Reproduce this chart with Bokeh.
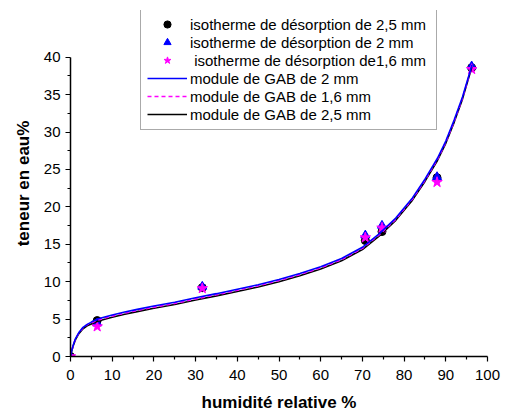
from bokeh.plotting import figure
from bokeh.models import Legend, LegendItem, Range1d, FixedTicker
from bokeh.embed import file_html
from bokeh.resources import INLINE

# Measured points (relative humidity %, water content %)
hr = [0, 6.4, 31.6, 70.7, 74.7, 87.9, 96.2]
wc_25 = [0, 4.8, 9.2, 15.5, 16.7, 23.9, 38.6]   # 2,5 mm (black circles)
wc_2 = [0, 4.45, 9.35, 16.2, 17.5, 24.0, 38.8]  # 2 mm (blue triangles)
wc_16 = [0, 4.0, 9.1, 15.9, 17.2, 23.3, 38.4]   # 1,6 mm (magenta stars)

# GAB model curves
gab_x = [0, 0.3, 0.7, 1.2, 2, 3, 4, 5, 6.5, 8, 10, 13, 16, 20, 25, 30, 35, 40, 45,
         50, 55, 60, 65, 70, 74, 78, 82, 85, 88, 90, 92, 94, 96.3]
gab_2 = [0, 0.8, 1.6, 2.4, 3.2, 3.9, 4.3, 4.6, 5.0, 5.25, 5.55, 5.95, 6.3, 6.75, 7.25,
         7.85, 8.4, 9.0, 9.6, 10.3, 11.1, 12.0, 13.1, 14.6, 16.4, 18.5, 21.2, 23.7,
         26.5, 28.8, 31.6, 34.7, 39.0]
gab_16 = [0, 0.8, 1.6, 2.35, 3.15, 3.85, 4.25, 4.5, 4.85, 5.1, 5.4, 5.8, 6.15, 6.6,
          7.1, 7.7, 8.25, 8.85, 9.45, 10.15, 10.95, 11.85, 12.95, 14.45, 16.25, 18.35,
          21.05, 23.55, 26.35, 28.65, 31.45, 34.55, 38.9]
gab_25 = [0, 0.75, 1.5, 2.25, 3.05, 3.7, 4.1, 4.35, 4.7, 4.95, 5.25, 5.65, 6.0, 6.45,
          6.95, 7.55, 8.1, 8.7, 9.3, 10.0, 10.8, 11.7, 12.8, 14.3, 16.1, 18.2, 20.9,
          23.4, 26.2, 28.5, 31.3, 34.4, 38.8]

x_ticks = [0, 10, 20, 30, 40, 50, 60, 70, 80, 90, 100]
y_ticks = [0, 5, 10, 15, 20, 25, 30, 35, 40]

FONT = "Liberation Sans"

p = figure(width=505, height=414, output_backend="svg", toolbar_location=None,
           x_range=Range1d(0, 100), y_range=Range1d(0, 46.25),
           min_border_left=70, min_border_right=18, min_border_top=10,
           min_border_bottom=56)
p.outline_line_color = None
p.xgrid.visible = False
p.ygrid.visible = False
p.background_fill_color = "white"

r_c = p.scatter(hr, wc_25, marker="circle", size=8, color="black")
r_t = p.scatter(hr, wc_2, marker="triangle", size=9, color="blue")
r_s = p.scatter(hr, wc_16, marker="star", size=11, color="magenta")

r_l25 = p.line(gab_x, gab_25, line_color="black", line_width=1.6)
r_l16 = p.line(gab_x, gab_16, line_color="magenta", line_width=1.6, line_dash="4 3")
r_l2 = p.line(gab_x, gab_2, line_color="blue", line_width=1.6)

for ax, ticks in ((p.xaxis[0], x_ticks), (p.yaxis[0], y_ticks)):
    ax.ticker = FixedTicker(ticks=ticks,
                            minor_ticks=[t + (ticks[1] - ticks[0]) / 2 for t in ticks[:-1]])
    ax.bounds = (ticks[0], ticks[-1])
    ax.axis_line_width = 1.5
    ax.axis_line_color = "black"
    ax.major_tick_line_color = "black"
    ax.minor_tick_line_color = "black"
    ax.major_tick_line_width = 1.2
    ax.minor_tick_line_width = 1.2
    ax.major_tick_in = 0
    ax.major_tick_out = 5
    ax.minor_tick_in = 0
    ax.minor_tick_out = 3
    ax.major_label_text_font = FONT
    ax.major_label_text_font_size = "15px"
    ax.major_label_text_color = "black"
    ax.axis_label_text_font = FONT
    ax.axis_label_text_font_style = "bold"
    ax.axis_label_text_font_size = "17px"
    ax.axis_label_text_color = "black"

p.xaxis.axis_label = "humidité relative %"
p.yaxis.axis_label = "teneur en eau%"
p.xaxis.major_label_standoff = 8
p.xaxis.axis_label_standoff = 10
p.yaxis.major_label_standoff = 5
p.yaxis.axis_label_standoff = 8

legend = Legend(items=[
    LegendItem(label="isotherme de désorption de 2,5 mm", renderers=[r_c]),
    LegendItem(label="isotherme de désorption de 2 mm", renderers=[r_t]),
    LegendItem(label=" isotherme de désorption de1,6 mm", renderers=[r_s]),
    LegendItem(label="module de GAB de 2 mm", renderers=[r_l2]),
    LegendItem(label="module de GAB de 1,6 mm", renderers=[r_l16]),
    LegendItem(label="module de GAB de 2,5 mm", renderers=[r_l25]),
], location=(70, 226))
legend.label_text_font = FONT
legend.label_text_font_size = "15px"
legend.label_text_color = "black"
legend.glyph_width = 40
legend.glyph_height = 18
legend.label_height = 18
legend.label_width = 240
legend.label_standoff = 3
legend.spacing = 0
legend.padding = 6
legend.margin = 0
legend.border_line_color = "#555555"
legend.border_line_width = 1.5
legend.background_fill_alpha = 1.0
legend.background_fill_color = "white"
p.add_layout(legend, "center")

open("out.html", "w").write(file_html(p, INLINE))
